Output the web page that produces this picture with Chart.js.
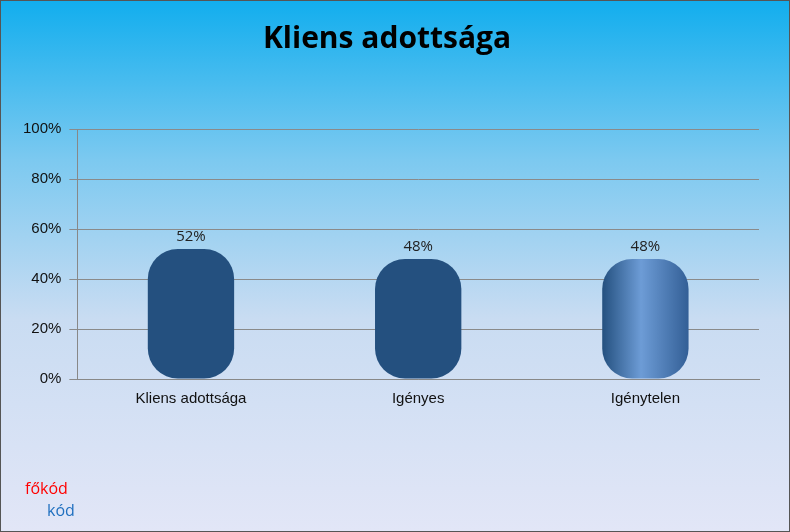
<!DOCTYPE html>
<html>
<head>
<meta charset="utf-8">
<script src="https://cdn.jsdelivr.net/npm/chart.js@4"></script>
<style>
  body { margin: 0; }
  #wrap {
    position: relative; width: 788px; height: 530px;
    border: 1px solid #555;
    background: linear-gradient(to bottom, #12aeee 0%, #7cc9f0 30%, #c9dcf2 60%, #e2e6f7 100%);
    font-family: "Open Sans", "DejaVu Sans", sans-serif;
  }
  #legend { position: absolute; left: 24px; top: 476px; font-size: 16px; line-height: 22px; }
</style>
</head>
<body>
<div id="wrap">
  <canvas id="barChart" width="788" height="530"></canvas>
  <div id="legend">
    <div style="color:#ff0000">főkód</div>
    <div style="color:#1f6fbf; padding-left:22px">kód</div>
  </div>
</div>
<script>
var categories = ["Kliens adottsága", "Igényes", "Igénytelen"];
var values = [52, 48, 48];
var barColors = [["#a00000", "#ff2020", "#c00000"], ["#24507f", "#6d9cd6", "#335f96"], ["#24507f", "#6d9cd6", "#335f96"]];
var yTicks = [0, 20, 40, 60, 80, 100];
var barPct = 0.38;

// cylinder look: horizontal gradient per bar, built once the scales are laid out
var cylinderFill = {
    id: "cylinderFill",
    beforeDatasetsDraw: function (chart) {
        var xs = chart.scales.x, ctx = chart.ctx;
        var w = xs.width / categories.length * barPct;
        var fills = categories.map(function (c, i) {
            var cx = xs.getPixelForValue(i);
            var g = ctx.createLinearGradient(cx - w / 2, 0, cx + w / 2, 0);
            g.addColorStop(0, barColors[i][0]);
            g.addColorStop(0.45, barColors[i][1]);
            g.addColorStop(1, barColors[i][2]);
            return g;
        });
        chart.getDatasetMeta(0).data.forEach(function (bar, i) {
            bar.options.backgroundColor = fills[i];
        });
    }
};

var valueLabels = {
    id: "valueLabels",
    afterDatasetsDraw: function (chart) {
        var ctx = chart.ctx;
        ctx.save();
        ctx.font = "15px 'Open Sans', sans-serif";
        ctx.fillStyle = "#222";
        ctx.textAlign = "center";
        chart.getDatasetMeta(0).data.forEach(function (bar, i) {
            ctx.fillText(values[i] + "%", bar.x, bar.y - 8);
        });
        ctx.restore();
    }
};

new Chart(document.getElementById("barChart").getContext("2d"), {
    type: "bar",
    data: {
        labels: categories,
        datasets: [{
            data: values,
            backgroundColor: "#4f81bd",
            borderRadius: 30,
            borderSkipped: false,
            barPercentage: barPct,
            categoryPercentage: 1
        }]
    },
    options: {
        responsive: false,
        animation: false,
        layout: { padding: { left: 14, right: 30, bottom: 120 } },
        plugins: {
            legend: { display: false },
            tooltip: { enabled: false },
            title: {
                display: true, text: "Kliens adottsága",
                color: "#000", font: { size: 30, weight: "bold", family: "'Open Sans', sans-serif" },
                padding: { top: 20, bottom: 72 }
            }
        },
        scales: {
            x: {
                grid: { display: false },
                border: { color: "#888" },
                ticks: { color: "#111", font: { size: 15 } }
            },
            y: {
                min: 0, max: 100,
                afterBuildTicks: function (s) { s.ticks = yTicks.map(function (v) { return { value: v }; }); },
                grid: { color: "#8a8a8a" },
                border: { color: "#888" },
                ticks: { color: "#111", font: { size: 15 }, padding: 8, callback: function (v) { return v + "%"; } }
            }
        }
    },
    plugins: [cylinderFill, valueLabels]
});
</script>
</body>
</html>
